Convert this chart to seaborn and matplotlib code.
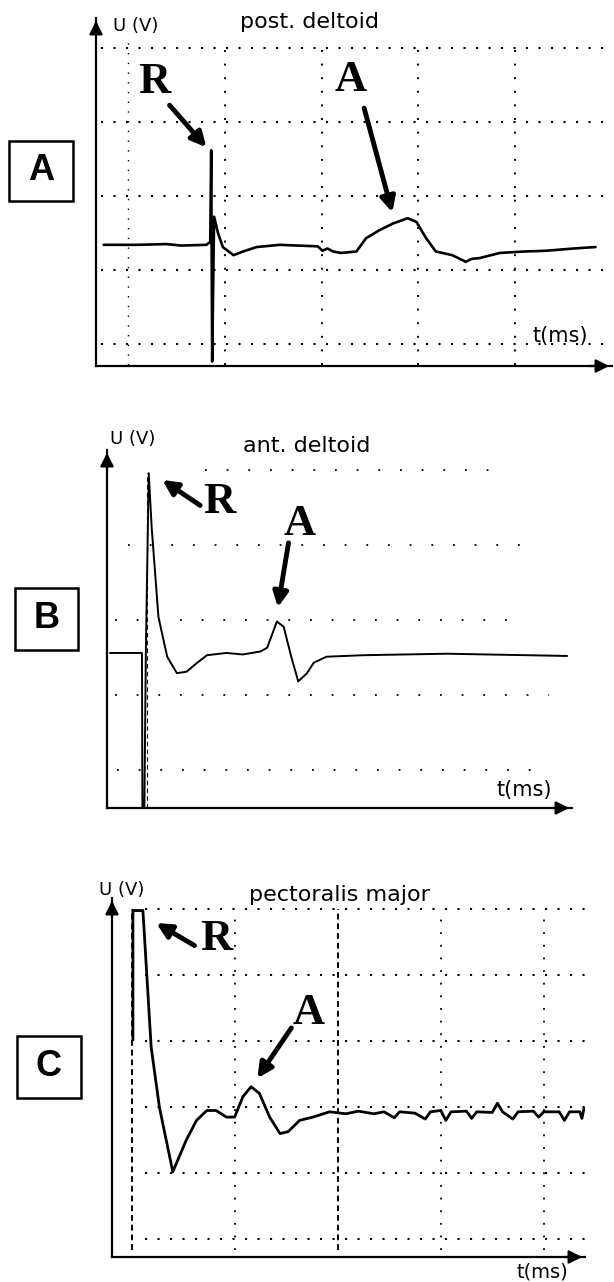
import matplotlib.pyplot as plt
import seaborn as sns
from matplotlib.patches import Rectangle

sns.set_style("white")
plt.rcParams["font.family"] = ["DejaVu Sans"]
plt.rcParams["text.color"] = "black"

# Panel A - post. deltoid (t in grid divisions, u in grid divisions)
a_t = [-0.25, 0.10, 0.40, 0.55, 0.81, 0.85, 0.86, 0.87, 0.89, 0.93, 0.98, 1.09, 1.19,
       1.33, 1.57, 1.75, 1.96, 2.01, 2.06, 2.12, 2.20, 2.36, 2.46, 2.60, 2.74, 2.89,
       2.98, 3.08, 3.18, 3.35, 3.49, 3.55, 3.63, 3.84, 4.10, 4.32, 4.60, 4.83]
a_u = [0.34, 0.34, 0.35, 0.33, 0.34, 0.38, 1.62, -1.24, 0.72, 0.50, 0.31, 0.20, 0.25,
       0.31, 0.34, 0.33, 0.32, 0.26, 0.29, 0.25, 0.23, 0.25, 0.43, 0.54, 0.63, 0.70,
       0.65, 0.43, 0.25, 0.20, 0.11, 0.15, 0.16, 0.23, 0.25, 0.26, 0.29, 0.31]

# Panel B - ant. deltoid
b_t = [0.03, 0.36, 0.365, 0.385, 0.40, 0.43, 0.46, 0.53, 0.62, 0.72, 0.82, 0.92, 1.03,
       1.23, 1.40, 1.58, 1.65, 1.75, 1.82, 1.90, 1.97, 2.06, 2.13, 2.26, 2.64, 3.50, 4.74]
b_u = [0.56, 0.56, -1.51, -1.51, 0.56, 2.96, 2.24, 1.04, 0.51, 0.29, 0.31, 0.42, 0.53,
       0.56, 0.54, 0.58, 0.63, 0.98, 0.91, 0.50, 0.18, 0.29, 0.43, 0.51, 0.53, 0.55, 0.52]

# Panel C - pectoralis major
c_t = [0.013, 0.013, 0.11, 0.19, 0.27, 0.40, 0.53, 0.63, 0.73, 0.82, 0.92, 1.00, 1.08,
       1.16, 1.24, 1.34, 1.44, 1.52, 1.63, 1.76, 1.92, 2.08, 2.20, 2.35, 2.45, 2.55,
       2.60, 2.75, 2.85, 2.90, 3.00, 3.05, 3.10, 3.25, 3.30, 3.35, 3.50, 3.55, 3.60,
       3.70, 3.75, 3.90, 3.95, 4.00, 4.15, 4.20, 4.25, 4.35, 4.37, 4.39]
c_u = [1.02, 2.98, 2.98, 0.91, 0.00, -0.98, -0.50, -0.20, -0.05, -0.05, -0.15, -0.15, 0.16,
       0.31, 0.21, -0.15, -0.40, -0.37, -0.20, -0.15, -0.07, -0.10, -0.06, -0.10, -0.07, -0.16,
       -0.07, -0.09, -0.18, -0.07, -0.05, -0.20, -0.07, -0.06, -0.17, -0.07, -0.08, 0.06, -0.07,
       -0.18, -0.07, -0.06, -0.15, -0.07, -0.07, -0.20, -0.07, -0.07, -0.17, -0.02]

panel_letters = ["A", "B", "C"]
muscles = ["post. deltoid", "ant. deltoid", "pectoralis major"]

W, H = 614, 1282
fig = plt.figure(figsize=(W / 100, H / 100), dpi=100)


def px_axes(left, right, top, bottom):
    return fig.add_axes([left / W, 1 - bottom / H, (right - left) / W, (bottom - top) / H])


def setup(ax, xlim, ylim):
    ax.set_xlim(*xlim)
    ax.set_ylim(*ylim)
    ax.set_xticks([])
    ax.set_yticks([])
    for s in ["top", "right"]:
        ax.spines[s].set_visible(False)
    for s in ["left", "bottom"]:
        ax.spines[s].set_linewidth(1.6)
        ax.spines[s].set_color("black")
    ax.patch.set_alpha(0)
    arrow = dict(arrowstyle="-|>", color="black", lw=1.6, mutation_scale=20)
    ax.annotate("", xy=(1.0, 0), xytext=(0.95, 0), xycoords="axes fraction", arrowprops=arrow)
    ax.annotate("", xy=(0, 1.0), xytext=(0, 0.94), xycoords="axes fraction", arrowprops=arrow)


def label(ax, letter, text_xy, tail, tip):
    ax.text(*text_xy, letter, family="Liberation Serif", weight="bold", fontsize=32,
            ha="center", va="center")
    ax.annotate("", xy=tip, xytext=tail,
                arrowprops=dict(arrowstyle="-|>", color="black", lw=3.5, mutation_scale=22,
                                shrinkA=0, shrinkB=0))


dots = (0, (1, 5))

# Panel A
ax = px_axes(96, 612, 18, 366)
setup(ax, (-0.33, 5.00), (-1.30, 3.41))
for u in [-1, 0, 1, 2, 3]:
    ax.hlines(u, -0.28, 5.0, color="black", lw=1.5, linestyle=dots)
for t in [0, 1, 2, 3, 4]:
    ax.vlines(t, -1.28, 3.1, color="black", lw=1.4 if t else 1.0, linestyle=(0, (1, 6)))
sns.lineplot(x=a_t, y=a_u, ax=ax, color="black", lw=1.9, sort=False, estimator=None)
label(ax, "R", (0.27, 2.54), (0.43, 2.23), (0.81, 1.66))
label(ax, "A", (2.30, 2.57), (2.44, 2.19), (2.73, 0.78))
ax.text(0.08, 3.30, "U (V)", fontsize=13, ha="center", va="center")
ax.text(1.88, 3.36, muscles[0], fontsize=16, ha="center", va="center")
ax.text(4.47, -0.90, "t(ms)", fontsize=15, ha="center", va="center")

# Panel B
ax = px_axes(107, 572, 450, 808)
setup(ax, (0, 4.79), (-1.51, 3.27))
b_rows = [3, 2, 1, 0, -1]
b_from = [1.01, 0.22, 0.08, 0.08, 0.10]
b_to = [4.03, 4.29, 4.16, 4.55, 4.54]
for u, x0, x1 in zip(b_rows, b_from, b_to):
    ax.hlines(u, x0, x1, color="black", lw=1.3, linestyle=(0, (1, 11)))
ax.vlines(0.41, -1.51, 2.96, color="black", lw=0.8, linestyle=(0, (4, 3)))
sns.lineplot(x=b_t, y=b_u, ax=ax, color="black", lw=1.4, sort=False, estimator=None)
label(ax, "R", (1.16, 2.57), (0.96, 2.53), (0.57, 2.87))
label(ax, "A", (1.99, 2.28), (1.87, 2.03), (1.76, 1.17))
ax.text(0.26, 3.42, "U (V)", fontsize=13, ha="center", va="center")
ax.text(2.06, 3.33, muscles[1], fontsize=16, ha="center", va="center")
ax.text(4.30, -1.27, "t(ms)", fontsize=15, ha="center", va="center")

# Panel C
ax = px_axes(112, 585, 898, 1257)
setup(ax, (-0.19, 4.40), (-2.27, 3.17))
for u in [-2, -1, 0, 1, 2, 3]:
    ax.hlines(u, 0.13, 4.40, color="black", lw=1.5, linestyle=dots)
for t in [0, 1, 2, 3, 4]:
    if t in (0, 2):
        ax.vlines(t, -2.17, 3.0, color="black", lw=1.4, linestyle=(0, (3, 2)))
    else:
        ax.vlines(t, -2.17, 3.0, color="black", lw=1.3, linestyle=(0, (1, 6)))
sns.lineplot(x=c_t, y=c_u, ax=ax, color="black", lw=2.0, sort=False, estimator=None)
label(ax, "R", (0.82, 2.55), (0.61, 2.45), (0.24, 2.79))
label(ax, "A", (1.72, 1.42), (1.55, 1.20), (1.22, 0.44))
ax.text(-0.10, 3.29, "U (V)", fontsize=13, ha="center", va="center")
ax.text(2.02, 3.22, muscles[2], fontsize=16, ha="center", va="center")
ax.text(3.99, -2.50, "t(ms)", fontsize=14, ha="center", va="center")

# Panel letter boxes
boxes = [(9, 141, 73, 201), (15, 588, 78, 650), (17, 1036, 81, 1098)]
for letter, (x0, y0, x1, y1) in zip(panel_letters, boxes):
    fig.add_artist(Rectangle((x0 / W, 1 - y1 / H), (x1 - x0) / W, (y1 - y0) / H,
                             transform=fig.transFigure, fill=False, lw=1.8, color="black"))
    fig.text((x0 + x1) / 2 / W, 1 - (y0 + y1) / 2 / H, letter, fontsize=26,
             family="Liberation Sans", weight="bold", ha="center", va="center")

fig.savefig("out.png", dpi=100, facecolor="white")
